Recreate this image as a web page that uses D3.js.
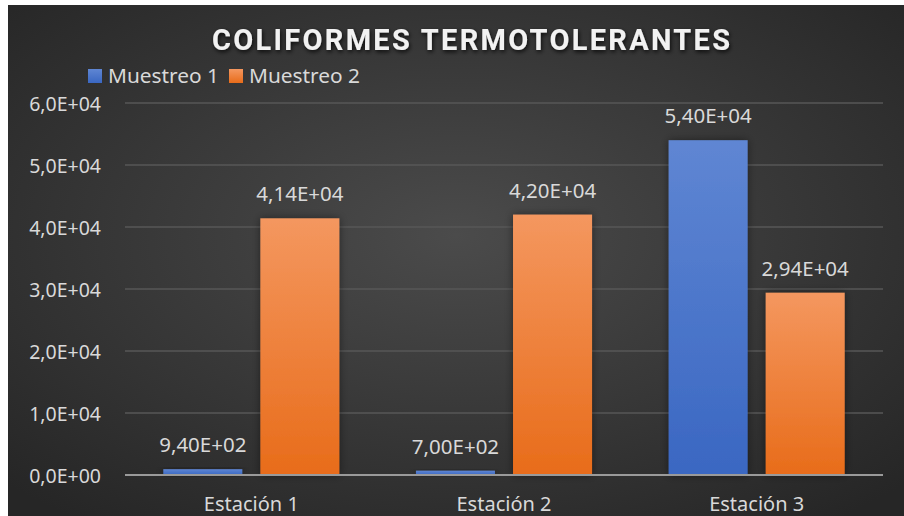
<!DOCTYPE html>
<html>
<head>
<meta charset="utf-8">
<script src="https://cdn.jsdelivr.net/npm/d3@7"></script>
<style>
  body { margin: 0; background: #fff; }
  svg { display: block; }
</style>
</head>
<body>
<script>
const categories = ['Estación 1', 'Estación 2', 'Estación 3'];
const series = ['Muestreo 1', 'Muestreo 2'];
const muestreo1 = [940, 700, 54000];
const muestreo2 = [41400, 42000, 29400];
const yTicks = [0, 10000, 20000, 30000, 40000, 50000, 60000];
const title = 'COLIFORMES TERMOTOLERANTES';

const width = 904;
const height = 516;
const plot = { left: 125, right: 883, top: 103, bottom: 475 };
const font = "'Noto Sans', 'DejaVu Sans', sans-serif";
const textColor = '#d9d9d9';

// 6,0E+04 style
function sci(v, digits) {
  const [m, e] = v.toExponential(digits).split('e');
  const sign = e[0] === '-' ? '-' : '+';
  const ex = e.replace(/[+-]/, '').padStart(2, '0');
  return `${m.replace('.', ',')}E${sign}${ex}`;
}

const svg = d3.select('body')
  .append('svg')
  .attr('width', width)
  .attr('height', height);

const defs = svg.append('defs');

const bg = defs.append('radialGradient')
  .attr('id', 'bg')
  .attr('cx', '50%')
  .attr('cy', '45%')
  .attr('r', '70%');
bg.append('stop').attr('offset', '0%').attr('stop-color', '#4b4b4b');
bg.append('stop').attr('offset', '100%').attr('stop-color', '#262626');

const colors = [['#5f86d3', '#3a67c2'], ['#f4975f', '#e86c1a']];
colors.forEach((c, i) => {
  const g = defs.append('linearGradient')
    .attr('id', `bar${i}`)
    .attr('x1', 0).attr('y1', 0)
    .attr('x2', 0).attr('y2', 1);
  g.append('stop').attr('offset', '0%').attr('stop-color', c[0]);
  g.append('stop').attr('offset', '100%').attr('stop-color', c[1]);
});

defs.append('filter')
  .attr('id', 'shadow')
  .attr('x', '-30%').attr('y', '-30%')
  .attr('width', '160%').attr('height', '160%')
  .append('feDropShadow')
  .attr('dx', 0).attr('dy', 0)
  .attr('stdDeviation', 4)
  .attr('flood-color', '#000')
  .attr('flood-opacity', 0.45);

defs.append('filter')
  .attr('id', 'tshadow')
  .append('feDropShadow')
  .attr('dx', 1).attr('dy', 2)
  .attr('stdDeviation', 2)
  .attr('flood-color', '#000')
  .attr('flood-opacity', 0.8);

svg.append('rect')
  .attr('x', 8).attr('y', 5)
  .attr('width', width - 8).attr('height', height - 5)
  .attr('fill', 'url(#bg)');

const x = d3.scaleBand()
  .domain(categories)
  .range([plot.left, plot.right]);

const xInner = d3.scaleBand()
  .domain(series)
  .range([38.3, x.bandwidth() - 38.3])
  .paddingInner(0.186);

const y = d3.scaleLinear()
  .domain([0, 60000])
  .range([plot.bottom, plot.top]);

// grid
svg.append('g')
  .selectAll('line')
  .data(yTicks.slice(1))
  .join('line')
  .attr('x1', plot.left)
  .attr('x2', plot.right)
  .attr('y1', (d) => y(d))
  .attr('y2', (d) => y(d))
  .attr('stroke', '#575757')
  .attr('stroke-width', 1.5);

// y tick labels
svg.append('g')
  .selectAll('text')
  .data(yTicks)
  .join('text')
  .attr('x', 101)
  .attr('y', (d) => y(d) + 8)
  .attr('text-anchor', 'end')
  .style('font-family', font)
  .style('font-size', '19.5px')
  .attr('fill', textColor)
  .text((d) => sci(d, 1));

const data = categories.map((c, i) => ({
  cat: c,
  values: [muestreo1[i], muestreo2[i]],
}));

const groups = svg.append('g')
  .selectAll('g')
  .data(data)
  .join('g')
  .attr('transform', (d) => `translate(${x(d.cat)},0)`);

groups.selectAll('rect')
  .data((d) => d.values.map((v, i) => ({ s: series[i], i, v })))
  .join('rect')
  .attr('x', (d) => xInner(d.s))
  .attr('y', (d) => y(d.v))
  .attr('width', xInner.bandwidth())
  .attr('height', (d) => y(0) - y(d.v))
  .attr('fill', (d) => `url(#bar${d.i})`)
  .attr('filter', 'url(#shadow)');

groups.selectAll('text')
  .data((d) => d.values.map((v, i) => ({ s: series[i], i, v })))
  .join('text')
  .attr('x', (d) => xInner(d.s) + xInner.bandwidth() / 2)
  .attr('y', (d) => y(d.v) - 17)
  .attr('text-anchor', 'middle')
  .style('font-family', font)
  .style('font-size', '20.5px')
  .attr('fill', textColor)
  .text((d) => sci(d.v, 2));

// baseline
svg.append('line')
  .attr('x1', plot.left)
  .attr('x2', plot.right)
  .attr('y1', y(0))
  .attr('y2', y(0))
  .attr('stroke', '#9a9a9a')
  .attr('stroke-width', 2);

// category labels
svg.append('g')
  .selectAll('text')
  .data(categories)
  .join('text')
  .attr('x', (d) => x(d) + x.bandwidth() / 2)
  .attr('y', 511)
  .attr('text-anchor', 'middle')
  .style('font-family', font)
  .style('font-size', '20px')
  .attr('fill', textColor)
  .text((d) => d);

// title
svg.append('text')
  .attr('x', 471)
  .attr('y', 50)
  .attr('text-anchor', 'middle')
  .attr('textLength', 518)
  .attr('lengthAdjust', 'spacing')
  .style('font-family', "Roboto, 'Liberation Sans', sans-serif")
  .style('font-weight', 'bold')
  .style('font-size', '29px')
  .attr('fill', '#f2f2f2')
  .attr('filter', 'url(#tshadow)')
  .text(title);

// legend
const legendX = [88, 229];
series.forEach((s, i) => {
  svg.append('rect')
    .attr('x', legendX[i])
    .attr('y', 69)
    .attr('width', 14)
    .attr('height', 14)
    .attr('fill', `url(#bar${i})`);
  svg.append('text')
    .attr('x', legendX[i] + 20)
    .attr('y', 83)
    .style('font-family', font)
    .style('font-size', '20px')
    .attr('textLength', 111)
    .attr('lengthAdjust', 'spacingAndGlyphs')
    .attr('fill', textColor)
    .text(s);
});
</script>
</body>
</html>
